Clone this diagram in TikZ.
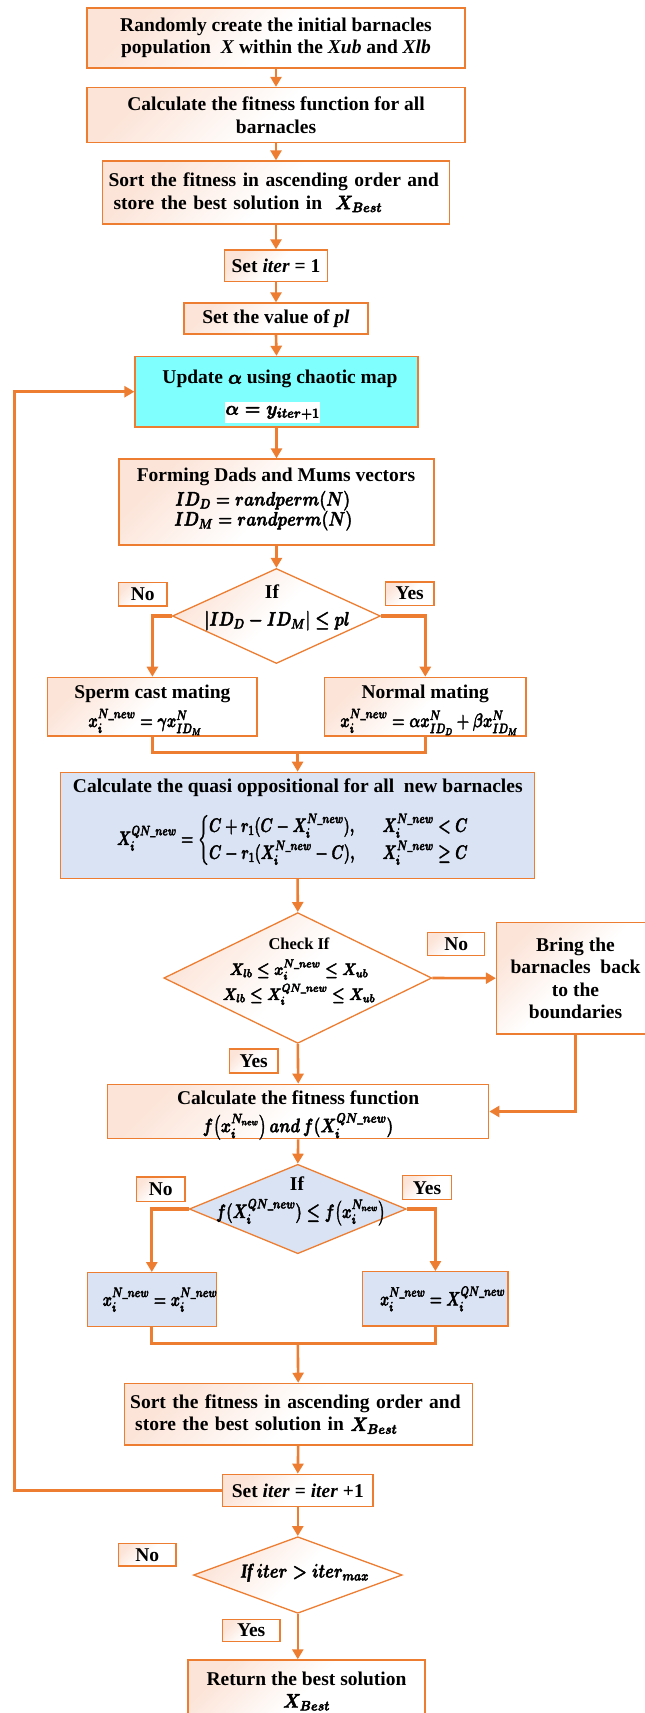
\RequirePackage{fix-cm}
\documentclass[tikz,border=0pt]{standalone}
\usepackage{amsmath}
\usepackage{graphicx}
\usepackage{fontspec}
\setmainfont{Liberation Serif}
\usetikzlibrary{shapes.geometric,arrows.meta}
\definecolor{ored}{HTML}{ED7D31}
\definecolor{peach}{HTML}{FCE4D8}
\definecolor{cyanf}{HTML}{80FFFF}
\definecolor{bluef}{HTML}{DAE3F3}
\newcommand{\Nn}{N\_new}
\newcommand{\mth}[2][0.82]{\scalebox{#1}[1]{\special{pdf:literal direct 2 Tr 0.45 w}$#2$\special{pdf:literal direct 0 Tr}}}
\tikzset{
  base/.style={inner sep=0pt, align=center, font=\fontsize{19.5}{22.5}\selectfont\bfseries\boldmath},
  txt/.style={base},
  box/.style={base, rectangle, draw=ored, line width=1.3pt, top color=peach, bottom color=white, middle color=white, shading angle=45},
  lab/.style={box},
  bluebox/.style={base, rectangle, draw=ored, line width=1.3pt, fill=bluef},
  cyanbox/.style={base, rectangle, draw=ored, line width=1.3pt, fill=cyanf},
  dia/.style={diamond, draw=ored, line width=1.3pt, inner sep=0pt, top color=peach, bottom color=white, middle color=white, shading angle=45},
  bluedia/.style={diamond, draw=ored, line width=1.3pt, inner sep=0pt, fill=bluef},
  arrow/.style={draw=ored, line width=2.6pt, -{Triangle[length=10pt,width=11pt]}},
  branch/.style={arrow, line width=3.3pt},
  thickline/.style={draw=ored, line width=3.3pt},
}
\begin{document}
\begin{tikzpicture}[x=1pt,y=-1pt]
\useasboundingbox (0,0) rectangle (645,1713);
\clip (0,0) rectangle (645,1713);

\node[box, minimum width=378pt, minimum height=60pt] (b1) at (276,38) {Randomly create the initial barnacles\\population \ \textit{X} within the \textit{Xub} and \textit{Xlb}};
\node[box, minimum width=378pt, minimum height=55pt] (b2) at (276,115) {Calculate the fitness function for all\\barnacles};
\node[box, minimum height=63pt, text width=335pt, inner xsep=6pt, align=left] (b3) at (276,192.5) {Sort the fitness in ascending order and\\\hspace*{5pt}store the best solution in \ \mth[0.9]{X_{Best}}};
\node[box, minimum width=103pt, minimum height=31.5pt] (b4) at (276,265.7) {Set \textit{iter} = 1};
\node[box, minimum width=184pt, minimum height=31pt] (b5) at (276,318.5) {Set the value of \textit{pl}};
\node[cyanbox, minimum width=283pt, minimum height=70.5pt] (b6) at (276.5,391.7) {};
\node[txt] (b6a) at (280,379) {Update \mth[0.95]{\alpha} using chaotic map};
\node[txt, fill=white, minimum width=94pt, minimum height=21pt] (b6b) at (272.5,412.7) {\mth[0.92]{\alpha = y_{iter+1}}};
\node[box, minimum width=315pt, minimum height=86pt] (b7) at (276.5,502) {};
\node[txt] (b7a) at (276,476.7) {Forming Dads and Mums vectors};
\node[txt, anchor=west] (b7b) at (175,500.7) {\mth{ID_D = randperm(N)}};
\node[txt, anchor=west] (b7c) at (174,520.7) {\mth{ID_M = randperm(N)}};

\node[dia, minimum width=208pt, minimum height=95pt] (d1) at (276.4,616) {};
\node[txt] (d1a) at (272,591.7) {If};
\node[txt] (d1b) at (277,620.7) {\mth[0.81]{|ID_D - ID_M| \le pl}};
\node[lab, minimum width=48.5pt, minimum height=23.5pt] (no1) at (142.7,594.3) {No};
\node[lab, minimum width=48.5pt, minimum height=23.5pt] (yes1) at (409.7,593.6) {Yes};

\node[box, minimum width=209.3pt, minimum height=58.7pt] (sp) at (152.4,706.7) {};
\node[txt] (spa) at (152.4,693.5) {Sperm cast mating};
\node[txt] (spb) at (145,722) {\mth[0.74]{x_i^{\Nn} = \gamma x_{ID_M}^N}};
\node[box, minimum width=201.4pt, minimum height=58.7pt] (nm) at (425.3,706.7) {};
\node[txt] (nma) at (425.3,693.5) {Normal mating};
\node[txt] (nmb) at (429,722) {\mth[0.74]{x_i^{\Nn} = \alpha x_{ID_D}^N + \beta x_{ID_M}^N}};

\node[bluebox, minimum width=474.3pt, minimum height=106pt] (q) at (297.6,825.3) {};
\node[txt] (qa) at (297.8,788) {Calculate the quasi oppositional for all \ new barnacles};
\node[txt] (qb) at (292.8,840) {\mth[0.72]{X_i^{QN\_new} = \begin{cases} C + r_1(C - X_i^{\Nn}), & \quad X_i^{\Nn} < C\\ C - r_1(X_i^{\Nn} - C), & \quad X_i^{\Nn} \ge C\end{cases}}};

\node[dia, minimum width=268pt, minimum height=130.7pt] (d2) at (297.8,978) {};
\node[txt, font=\fontsize{16.5}{25}\selectfont\bfseries\boldmath] (d2a) at (299,971.5) {Check If\\\mth[0.86]{X_{lb} \le x_i^{\Nn} \le X_{ub}}\\\mth[0.86]{X_{lb} \le X_i^{QN\_new} \le X_{ub}}};
\node[lab, minimum width=57pt, minimum height=22.6pt] (no2) at (456.3,944) {No};
\node[box, minimum width=158pt, minimum height=111.7pt] (br) at (575.5,978.2) {Bring the\\barnacles \ back\\to the\\boundaries};
\node[lab, minimum width=48.5pt, minimum height=24pt] (yes2) at (253.7,1061) {Yes};
\node[box, minimum width=381pt, minimum height=54.4pt] (ft) at (298.2,1111.5) {};
\node[txt] (fta) at (298.2,1097.5) {Calculate the fitness function};
\node[txt] (ftb) at (298,1126.5) {\mth[0.8]{f\bigl(x_i^{N_{new}}\bigr)\,and\, f(X_i^{QN\_new})}};

\node[bluedia, minimum width=217pt, minimum height=89.4pt] (d3) at (297.8,1209) {};
\node[txt] (d3a) at (297,1183.3) {If};
\node[txt] (d3b) at (300.7,1212.3) {\mth[0.76]{f(X_i^{QN\_new}) \le f\bigl(x_i^{N_{new}}\bigr)}};
\node[lab, minimum width=48.4pt, minimum height=24.3pt] (no3) at (160.8,1189.2) {No};
\node[lab, minimum width=48.6pt, minimum height=24pt] (yes3) at (427,1187.7) {Yes};

\node[bluebox, minimum width=129.2pt, minimum height=54pt] (L) at (151.8,1299.7) {};
\node[txt] (Lt) at (160,1299.7) {\mth[0.73]{x_i^{\Nn} = x_i^{\Nn}}};
\node[bluebox, minimum width=145.2pt, minimum height=54.3pt] (R) at (435.4,1298.9) {};
\node[txt] (Rt) at (442.6,1298.9) {\mth[0.71]{x_i^{\Nn} = X_i^{QN\_new}}};

\node[box, minimum height=61.7pt, text width=336pt, inner xsep=6pt, align=left] (s2) at (298.2,1414.2) {Sort the fitness in ascending order and\\\hspace*{5pt}store the best solution in \mth[0.9]{X_{Best}}};
\node[box, minimum width=150.5pt, minimum height=32.4pt] (s3) at (297.8,1490.5) {Set \textit{iter} = \textit{iter} +1};

\node[dia, minimum width=208.7pt, minimum height=76.6pt] (d4) at (297.8,1575) {};
\node[txt] (d4a) at (305,1572.7) {\mth{\mathit{If}\ iter > iter_{max}}};
\node[lab, minimum width=57.5pt, minimum height=22.3pt] (no4) at (147.2,1554.8) {No};
\node[lab, minimum width=57.5pt, minimum height=22.4pt] (yes4) at (251.2,1630.5) {Yes};
\node[box, minimum width=237pt, minimum height=62pt, anchor=north] (ret) at (306.5,1659.3) {Return the best solution\\\mth[0.9]{X_{Best}}};

\coordinate (m1) at (297.6,752.3);
\coordinate (m2) at (297.8,1343.3);
\coordinate (lp) at (14.4,1490.5);

\draw[arrow] (b1.south) -- (b2.north);
\draw[arrow] (b2.south) -- (b3.north);
\draw[arrow] (b3.south) -- (b4.north);
\draw[arrow] (b4.south) -- (b5.north);
\draw[arrow] (b5.south) -- (b6.north);
\draw[arrow] (b6.south) -- (b7.north);
\draw[arrow] (b7.south) -- (d1.north);
\draw[branch] (d1.west) -| (sp.north);
\draw[branch] (d1.east) -| (nm.north);
\draw[thickline] (sp.south) |- (m1) -| (nm.south);
\draw[arrow] (m1) -- (q.north);
\draw[arrow] (q.south) -- (d2.north);
\draw[arrow] (d2.east) -- (br.west);
\draw[arrow] (br.south) |- (ft.east);
\draw[arrow] (d2.south) -- (ft.north);
\draw[arrow] (ft.south) -- (d3.north);
\draw[branch] (d3.west) -| (L.north);
\draw[branch] (d3.east) -| (R.north);
\draw[thickline] (L.south) |- (m2) -| (R.south);
\draw[arrow] (m2) -- (s2.north);
\draw[arrow] (s2.south) -- (s3.north);
\draw[arrow] (s3.west) -- (lp) |- (b6.west);
\draw[arrow] (s3.south) -- (d4.north);
\draw[arrow] (d4.south) -- (d4.south |- ret.north);
\end{tikzpicture}
\end{document}
